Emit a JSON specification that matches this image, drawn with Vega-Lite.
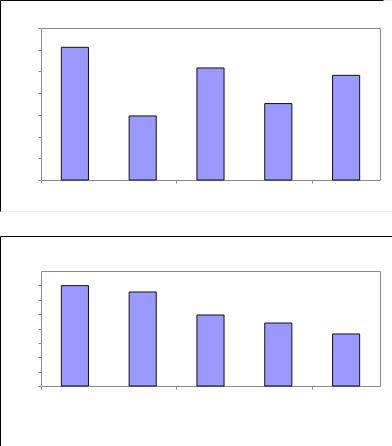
{
  "$schema": "https://vega.github.io/schema/vega-lite/v6.json",
  "padding": {"top": -1, "left": -1, "right": 0, "bottom": 0},
  "spacing": 23,
  "background": "white",
  "config": {
    "view": {"stroke": "black", "strokeWidth": 1},
    "axis": {"labels": false, "grid": false, "domainColor": "#8a8a8a", "tickColor": "#8a8a8a", "tickSize": 3, "domainWidth": 1, "tickWidth": 1}
  },
  "datasets": {
    "top": [
      {"cat": "A", "value": 6.11},
      {"cat": "B", "value": 2.95},
      {"cat": "C", "value": 5.16},
      {"cat": "D", "value": 3.52},
      {"cat": "E", "value": 4.82}
    ],
    "bottom": [
      {"cat": "A", "value": 6.98},
      {"cat": "B", "value": 6.54},
      {"cat": "C", "value": 4.94},
      {"cat": "D", "value": 4.38},
      {"cat": "E", "value": 3.62}
    ]
  },
  "vconcat": [
    {
      "width": 400,
      "height": 211,
      "view": {"stroke": "#ececec"},
      "data": {"name": "top"},
      "layer": [
        {
          "mark": {"type": "bar", "opacity": 0},
          "encoding": {
            "x": {"field": "cat", "type": "nominal", "scale": {"range": [0, 383]}, "axis": {"title": null, "orient": "top", "offset": 0, "ticks": false, "domainColor": "black"}},
            "y": {"field": "value", "type": "quantitative", "scale": {"domain": [0, 7], "range": [211, 0]}, "axis": {"title": null, "orient": "left", "offset": 0, "ticks": false, "domainColor": "black"}}
          }
        },
        {
          "mark": {"type": "bar", "opacity": 0},
          "encoding": {
            "x": {"field": "cat", "type": "nominal", "scale": {"range": [41, 380], "paddingInner": 0.6, "paddingOuter": 0.3}, "axis": {"title": null, "orient": "top", "offset": -28, "ticks": false}},
            "y": {"field": "value", "type": "quantitative", "scale": {"domain": [0, 7], "range": [180, 28]}, "axis": {"title": null, "orient": "right", "offset": -20, "ticks": false}}
          }
        },
        {
          "mark": {"type": "bar", "fill": "#9999FF", "stroke": "#111111", "strokeWidth": 1},
          "encoding": {
            "x": {"field": "cat", "type": "nominal", "scale": {"range": [41, 380], "paddingInner": 0.6, "paddingOuter": 0.3}, "axis": {"title": null, "orient": "bottom", "offset": -31, "values": ["A", "C", "E"], "bandPosition": -0.75}},
            "y": {"field": "value", "type": "quantitative", "scale": {"domain": [0, 7], "range": [180, 28]}, "axis": {"title": null, "orient": "left", "offset": -41, "values": [0, 1, 2, 3, 4, 5, 6, 7]}}
          }
        }
      ],
      "resolve": {"scale": {"x": "independent", "y": "independent"}, "axis": {"x": "independent", "y": "independent"}}
    },
    {
      "width": 400,
      "height": 220,
      "data": {"name": "bottom"},
      "layer": [
        {
          "mark": {"type": "bar", "opacity": 0},
          "encoding": {
            "x": {"field": "cat", "type": "nominal", "scale": {"range": [41, 380], "paddingInner": 0.6, "paddingOuter": 0.3}, "axis": {"title": null, "orient": "top", "offset": -35, "ticks": false}},
            "y": {"field": "value", "type": "quantitative", "scale": {"domain": [0, 8], "range": [150, 35]}, "axis": {"title": null, "orient": "right", "offset": -20, "ticks": false}}
          }
        },
        {
          "mark": {"type": "bar", "fill": "#9999FF", "stroke": "#111111", "strokeWidth": 1},
          "encoding": {
            "x": {"field": "cat", "type": "nominal", "axis": {"title": null, "orient": "bottom", "offset": -70, "values": ["A", "C", "E"], "bandPosition": -0.75}},
            "y": {"field": "value", "type": "quantitative", "axis": {"title": null, "orient": "left", "offset": -41, "values": [0, 1, 2, 3, 4, 5, 6, 7]}}
          }
        }
      ],
      "resolve": {"axis": {"x": "independent", "y": "independent"}}
    }
  ]
}
